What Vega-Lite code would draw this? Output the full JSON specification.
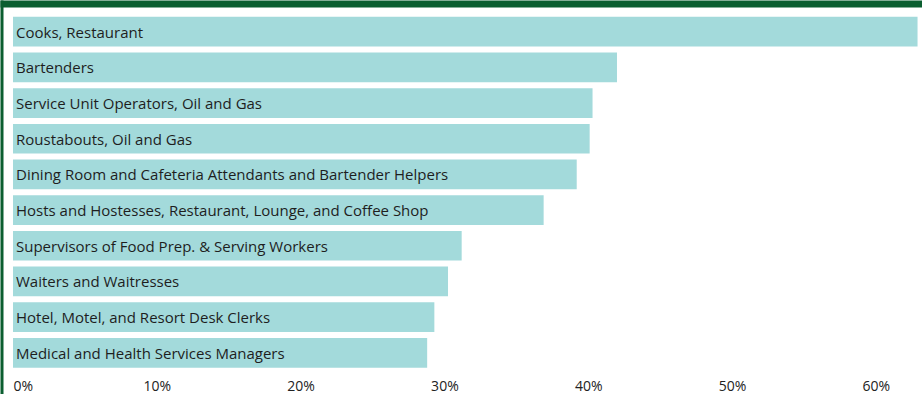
{
  "$schema": "https://vega.github.io/schema/vega-lite/v6.json",
  "width": 922,
  "height": 394,
  "autosize": "none",
  "padding": 0,
  "background": "#ffffff",
  "config": {
    "view": {"stroke": null},
    "font": "Open Sans",
    "axis": {"grid": false, "ticks": false, "tickSize": 0, "title": null}
  },
  "data": {
    "values": [
      {"occupation": "Cooks, Restaurant", "pct": 0.629},
      {"occupation": "Bartenders", "pct": 0.420},
      {"occupation": "Service Unit Operators, Oil and Gas", "pct": 0.403},
      {"occupation": "Roustabouts, Oil and Gas", "pct": 0.401},
      {"occupation": "Dining Room and Cafeteria Attendants and Bartender Helpers", "pct": 0.392},
      {"occupation": "Hosts and Hostesses, Restaurant, Lounge, and Coffee Shop", "pct": 0.369},
      {"occupation": "Supervisors of Food Prep. & Serving Workers", "pct": 0.312},
      {"occupation": "Waiters and Waitresses", "pct": 0.3025},
      {"occupation": "Hotel, Motel, and Resort Desk Clerks", "pct": 0.293},
      {"occupation": "Medical and Health Services Managers", "pct": 0.288}
    ]
  },
  "encoding": {
    "y": {
      "field": "occupation",
      "type": "nominal",
      "sort": null,
      "scale": {"paddingInner": 0.167, "paddingOuter": 0.606, "align": 0.39}
    }
  },
  "layer": [
    {
      "mark": {"type": "bar", "color": "#a3dadb"},
      "encoding": {
        "x": {
          "field": "pct",
          "type": "quantitative",
          "scale": {"domain": [-0.00904, 0.6321], "nice": false, "zero": false},
          "axis": {
            "orient": "bottom",
            "values": [0, 0.1, 0.2, 0.3, 0.4, 0.5, 0.6],
            "format": ".0%",
            "domain": false,
            "offset": -15,
            "labelPadding": 0,
            "labelFontSize": 14,
            "labelColor": "#222222",
            "labelAlign": {"condition": {"test": "datum.value == 0", "value": "left"}, "value": "center"}
          }
        },
        "y": {
          "field": "occupation",
          "type": "nominal",
          "sort": null,
          "axis": {
            "orient": "left",
            "labels": false,
            "domain": true,
            "domainColor": "#0b5e30",
            "domainWidth": 3,
            "offset": -1.5
          }
        }
      }
    },
    {
      "mark": {"type": "text", "align": "left", "baseline": "middle", "dx": 3, "dy": 1, "fontSize": 15, "color": "#1e1e1e", "font": "Open Sans"},
      "encoding": {
        "x": {
          "datum": 0,
          "type": "quantitative",
          "axis": {
            "orient": "top",
            "labels": false,
            "domain": true,
            "domainColor": "#0b5e30",
            "domainWidth": 7,
            "offset": -3.5
          }
        },
        "text": {"field": "occupation"}
      }
    }
  ],
  "resolve": {"axis": {"x": "independent", "y": "independent"}}
}
